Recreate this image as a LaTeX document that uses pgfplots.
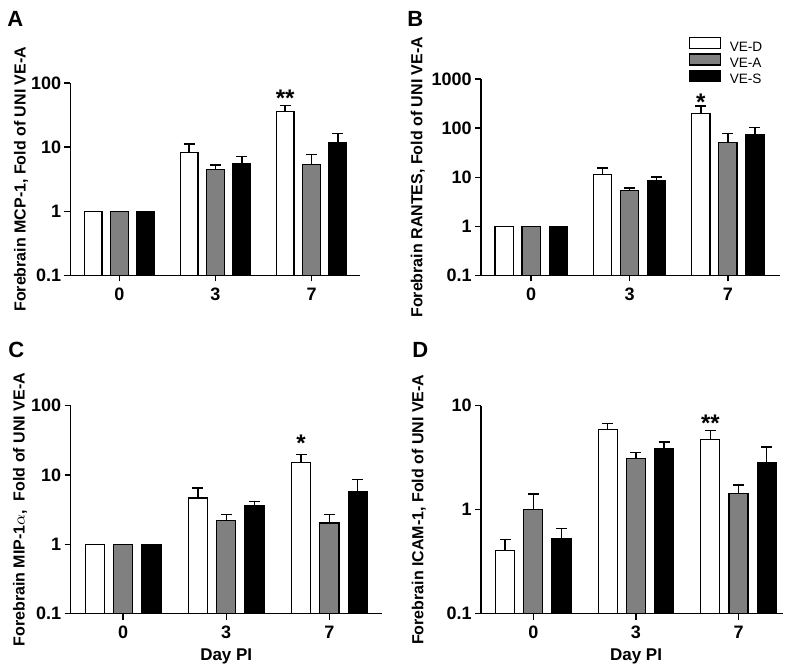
\documentclass[border=0pt]{standalone}
\usepackage{pgfplots}
\pgfplotsset{compat=1.18}
\usepackage{fontspec}
\setmainfont{Liberation Sans}
\definecolor{bargray}{HTML}{808080}
\pgfplotsset{
  mypanelstyle/.style={
    scale only axis,
    axis x line*=bottom, axis y line*=left,
    axis line style={line width=0.7pt,-},
    tick align=outside, major tick length=3pt,
    tick style={line width=0.7pt, black},
    yminorticks=false, xminorticks=false,
    xtick={0,1,2}, xticklabels={0,3,7}, xmin=-0.51,
    ymin=0.1, enlargelimits=false,
    bar width=0.185,
    tick label style={font=\fontsize{9}{10}\selectfont\bfseries},
    yticklabel style={inner sep=1pt, xshift=-0.5pt},
    xticklabel style={inner sep=1pt, yshift=-2pt},
    ylabel style={font=\fontsize{8}{9}\selectfont\bfseries, anchor=center, at={(axis description cs:0,0.5)}},
    xlabel style={font=\fontsize{8.5}{10}\selectfont\bfseries, anchor=north, inner sep=0pt, yshift=-17.3pt},
    clip=false,
  },
  myeb/.style={error bars/y dir=plus, error bars/y explicit,
    error bars/error bar style={line width=0.7pt,black},
    error bars/error mark options={rotate=90, mark size=2.75pt, line width=0.7pt, black}},
  mywbar/.style={fill=white, draw=black, line width=0.6pt, bar shift=-0.275, myeb},
  mygbar/.style={fill=bargray, draw=black, line width=0.6pt, bar shift=0, myeb},
  mykbar/.style={fill=black, draw=black, line width=0.6pt, bar shift=0.275, myeb},
}
\begin{document}
\begin{tikzpicture}
\path (0,0) rectangle (400pt,334.5pt);
% Panel A
\begin{axis}[ymode=log, log origin y=infty, ybar, mypanelstyle, at={(35.25pt,196.75pt)}, anchor=south west,
  width=145pt, height=96.25pt, xmax=2.51, ymax=100,
  ytick={0.1,1,10,100}, yticklabels={0.1,1,10,100},
  ylabel={Forebrain MCP-1, Fold of UNI VE-A}, ylabel style={yshift=24.75pt}]
\addplot[mywbar] table[x=x,y=y,y error=e,row sep=\\] {x y e\\ 0 1 0\\ 1 8.3 2.9\\ 2 35.5 9.5\\};
\addplot[mygbar] table[x=x,y=y,y error=e,row sep=\\] {x y e\\ 0 1 0\\ 1 4.55 0.75\\ 2 5.4 2.3\\};
\addplot[mykbar] table[x=x,y=y,y error=e,row sep=\\] {x y e\\ 0 1 0\\ 1 5.6 1.5\\ 2 11.7 4.7\\};
\node[font=\fontsize{12}{12}\selectfont\bfseries, anchor=north, inner sep=0pt] at (axis cs:1.725,79.8) {**};
\end{axis}
% Panel B
\begin{axis}[ymode=log, log origin y=infty, ybar, mypanelstyle, at={(240.5pt,196.75pt)}, anchor=south west,
  width=149.5pt, height=98.25pt, xmax=2.53, ymax=1000,
  ytick={0.1,1,10,100,1000}, yticklabels={0.1,1,10,100,1000},
  ylabel={Forebrain RANTES, Fold of UNI VE-A}, ylabel style={yshift=31.65pt},
  legend style={at={(axis description cs:0.693,1.215)}, anchor=north west, draw=none, fill=none,
    inner sep=0pt, font=\fontsize{6.8}{7}\selectfont, row sep=-0.9pt, nodes={inner sep=0.5pt},
    /tikz/every odd column/.append style={column sep=4pt}},
  legend cell align=left,
  legend image code/.code={\draw[#1] (0pt,-0.4pt) rectangle (15.5pt,5.1pt);}]
\addlegendimage{fill=white, draw=black, line width=0.6pt}
\addlegendentry{VE-D}
\addlegendimage{fill=bargray, draw=black, line width=0.6pt}
\addlegendentry{VE-A}
\addlegendimage{fill=black, draw=black, line width=0.6pt}
\addlegendentry{VE-S}
\addplot[mywbar, forget plot] table[x=x,y=y,y error=e,row sep=\\] {x y e\\ 0 1 0\\ 1 11.2 4.1\\ 2 200 80\\};
\addplot[mygbar, forget plot] table[x=x,y=y,y error=e,row sep=\\] {x y e\\ 0 1 0\\ 1 5.3 0.7\\ 2 51 26\\};
\addplot[mykbar, forget plot] table[x=x,y=y,y error=e,row sep=\\] {x y e\\ 0 1 0\\ 1 8.45 1.75\\ 2 73 31\\};
\node[font=\fontsize{12}{12}\selectfont\bfseries, anchor=north, inner sep=0pt] at (axis cs:1.725,513) {*};
\end{axis}
% Panel C
\begin{axis}[ymode=log, log origin y=infty, ybar, mypanelstyle, at={(35.25pt,27.65pt)}, anchor=south west,
  width=155.75pt, height=104pt, xmax=2.51, ymax=100,
  ytick={0.1,1,10,100}, yticklabels={0.1,1,10,100},
  ylabel={Forebrain MIP-1$\alpha$,\ \ Fold of UNI VE-A}, ylabel style={yshift=25.25pt},
  xlabel={Day PI}, xlabel style={at={(axis description cs:0.5,0)}}]
\addplot[mywbar] table[x=x,y=y,y error=e,row sep=\\] {x y e\\ 0 1 0\\ 1 4.66 1.84\\ 2 15.2 4.4\\};
\addplot[mygbar] table[x=x,y=y,y error=e,row sep=\\] {x y e\\ 0 1 0\\ 1 2.22 0.46\\ 2 2.03 0.68\\};
\addplot[mykbar] table[x=x,y=y,y error=e,row sep=\\] {x y e\\ 0 1 0\\ 1 3.57 0.55\\ 2 5.81 2.76\\};
\node[font=\fontsize{12}{12}\selectfont\bfseries, anchor=north, inner sep=0pt] at (axis cs:1.725,38.2) {*};
\end{axis}
% Panel D
\begin{axis}[ymode=log, log origin y=infty, ybar, mypanelstyle, at={(240.5pt,27.65pt)}, anchor=south west,
  width=150.85pt, height=104pt, xmax=2.43, ymax=10,
  ytick={0.1,1,10}, yticklabels={0.1,1,10},
  ylabel={Forebrain ICAM-1, Fold of UNI VE-A}, ylabel style={yshift=31.15pt},
  xlabel={Day PI}, xlabel style={at={(axis description cs:0.514,0)}}]
\addplot[mywbar] table[x=x,y=y,y error=e,row sep=\\] {x y e\\ 0 0.402 0.115\\ 1 5.91 0.79\\ 2 4.73 1.01\\};
\addplot[mygbar] table[x=x,y=y,y error=e,row sep=\\] {x y e\\ 0 1.0 0.41\\ 1 3.08 0.47\\ 2 1.42 0.31\\};
\addplot[mykbar] table[x=x,y=y,y error=e,row sep=\\] {x y e\\ 0 0.533 0.123\\ 1 3.91 0.55\\ 2 2.86 1.16\\};
\node[font=\fontsize{12}{12}\selectfont\bfseries, anchor=north, inner sep=0pt] at (axis cs:1.725,8.26) {**};
\end{axis}
% panel letters
\node[anchor=base west, inner sep=0pt, font=\fontsize{11}{11}\selectfont\bfseries] at (3.5pt,321.15pt) {A};
\node[anchor=base west, inner sep=0pt, font=\fontsize{11}{11}\selectfont\bfseries] at (203.5pt,321.15pt) {B};
\node[anchor=base west, inner sep=0pt, font=\fontsize{11}{11}\selectfont\bfseries] at (4pt,155.5pt) {C};
\node[anchor=base west, inner sep=0pt, font=\fontsize{11}{11}\selectfont\bfseries] at (206pt,155.5pt) {D};
\end{tikzpicture}
\end{document}
